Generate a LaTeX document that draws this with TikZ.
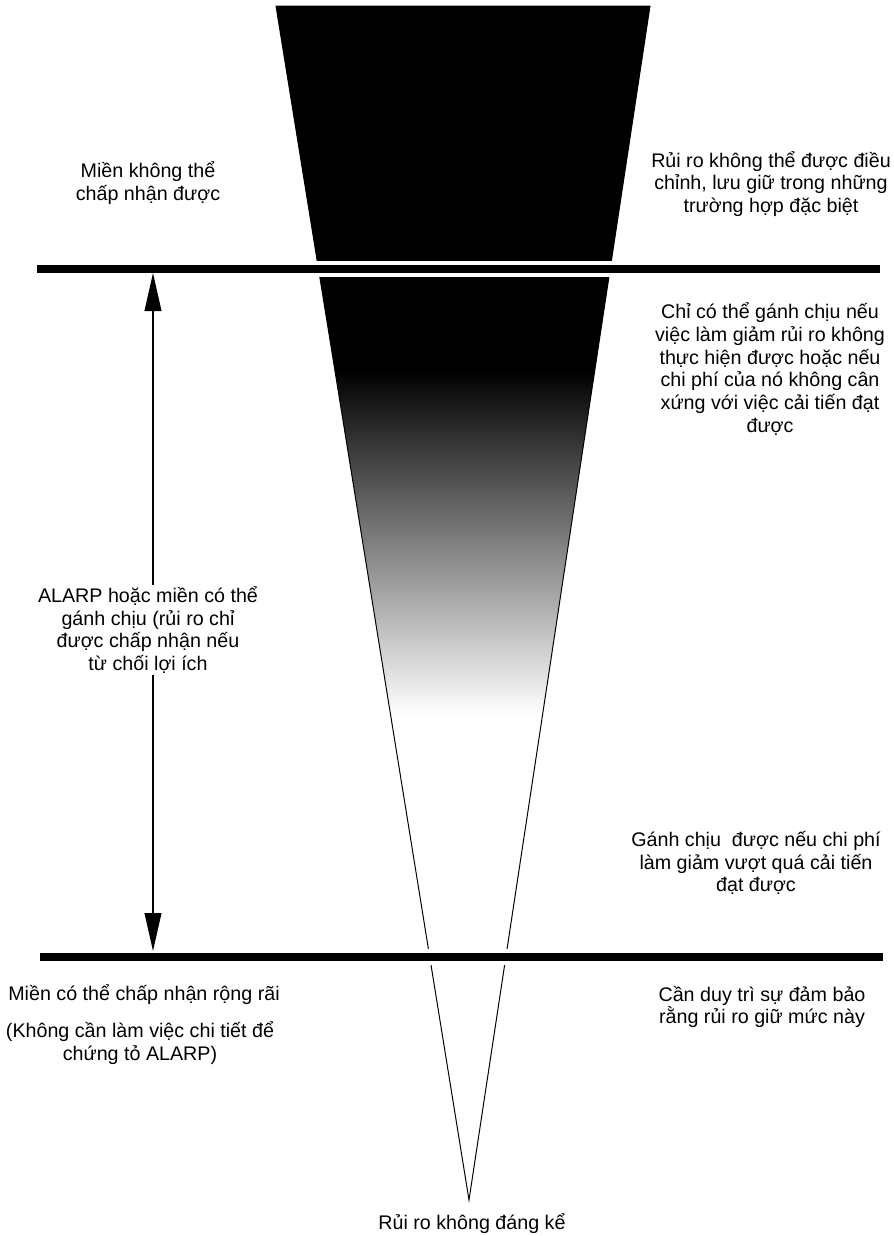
\documentclass[tikz,border=0pt]{standalone}
\usepackage{fontspec}
\setmainfont{Liberation Sans}
\usetikzlibrary{arrows.meta,positioning}

\tikzset{
  lbl/.style={align=center, font=\fontsize{14}{16.2}\selectfont, inner sep=1pt},
  gap/.style={white, line width=4.2mm},
  bar/.style={black, line width=2mm},
  span/.style={line width=1pt, -{Triangle[length=9.5mm,width=4.2mm]}}
}

\begin{document}
\begin{tikzpicture}[x=0.025cm, y=-0.025cm]
  \useasboundingbox (0,0) rectangle (894,1236);

  % the cone
  \coordinate (tl) at (276,6);
  \coordinate (tr) at (650,6);
  \coordinate (tip) at (469,1200);
  \begin{scope}
    \clip (tl) -- (tr) -- (tip) -- cycle;
    \fill[black] (0,0) rectangle (894,372);
    \shade[top color=black, bottom color=white] (0,370) rectangle (894,715);
  \end{scope}
  \draw[line width=0.7pt] (tl) -- (tr) -- (tip) -- cycle;

  % the two limits
  \coordinate (ul) at (37,269);  \coordinate (ur) at (880,269);
  \coordinate (ll) at (40,957);  \coordinate (lr) at (883,957);
  \draw[gap] (ul) -- (ur);
  \draw[bar] (ul) -- (ur);
  \draw[gap] (ll) -- (lr);
  \draw[bar] (ll) -- (lr);

  % texts
  \node[lbl] (unacc) at (148,183) {Miền không thể\\chấp nhận được};
  \node[lbl] (unaccr) at (771,184) {Rủi ro không thể được điều\\chỉnh, lưu giữ trong những\\trường hợp đặc biệt};
  \node[lbl] (tolr) at (770,369) {Chỉ có thể gánh chịu nếu\\việc làm giảm rủi ro không\\thực hiện được hoặc nếu\\chi phí của nó không cân\\xứng với việc cải tiến đạt\\được};
  \node[lbl, fill=white] (alarp) at (148,630) {ALARP hoặc miền có thể\\gánh chịu (rủi ro chỉ\\được chấp nhận nếu\\từ chối lợi ích};
  \node[lbl] (tolr2) at (756,863) {Gánh chịu \ được nếu chi phí\\làm giảm vượt quá cải tiến\\đạt được};
  \node[lbl] (broad) at (144,995) {Miền có thể chấp nhận rộng rãi};
  \node[lbl] (broadn) at (140,1043) {(Không cần làm việc chi tiết để\\chứng tỏ ALARP)};
  \node[lbl] (broadr) at (762,1007) {Cần duy trì sự đảm bảo\\rằng rủi ro giữ mức này};
  \node[lbl] (negl) at (472,1224) {Rủi ro không đáng kể};

  % the ALARP span
  \coordinate (atop) at (153,273);
  \coordinate (abot) at (153,951);
  \draw[span] (alarp.north -| atop) -- (atop);
  \draw[span] (alarp.south -| abot) -- (abot);
\end{tikzpicture}
\end{document}
